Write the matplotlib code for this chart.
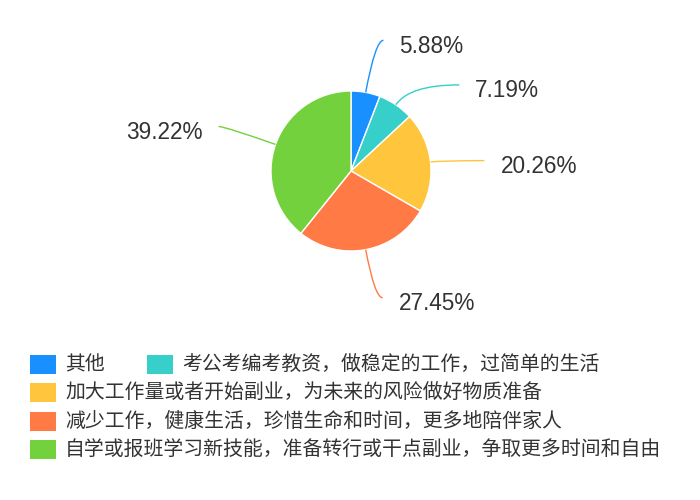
import numpy as np
import matplotlib.pyplot as plt
from matplotlib.path import Path
from matplotlib.patches import PathPatch, Rectangle

categories = [
    '其他',
    '考公考编考教资，做稳定的工作，过简单的生活',
    '加大工作量或者开始副业，为未来的风险做好物质准备',
    '减少工作，健康生活，珍惜生命和时间，更多地陪伴家人',
    '自学或报班学习新技能，准备转行或干点副业，争取更多时间和自由',
]
percents = [5.88, 7.19, 20.26, 27.45, 39.22]
colors = ['#1890ff', '#36cfc9', '#ffc53d', '#ff7a45', '#73d13d']

# label line lengths (px): radial part and horizontal tail
line_len = [53, 24, 12, 49, 54]
tail_len = [8, 50, 42, 8, 6]

W, H = 700, 500
fig = plt.figure(figsize=(7, 5), dpi=100)
ax = fig.add_axes([0, 0, 1, 1])

cx, cy, r = 351, H - 171, 80
wedges, _ = ax.pie(percents, colors=colors, startangle=90, counterclock=False,
                   center=(cx, cy), radius=r,
                   wedgeprops=dict(edgecolor='white', linewidth=1))
ax.set_xlim(0, W)
ax.set_ylim(0, H)
ax.set_aspect('equal')
ax.axis('off')

num_font = ['Liberation Sans', 'DejaVu Sans']
cjk_font = ['Noto Sans CJK SC', 'DejaVu Sans']

# leader lines + percentage labels
for w, p, c, L, t in zip(wedges, percents, colors, line_len, tail_len):
    ang = np.deg2rad((w.theta1 + w.theta2) / 2)
    ux, uy = np.cos(ang), np.sin(ang)
    p0 = (cx + r * ux, cy + r * uy)
    p1 = (cx + (r + L) * ux, cy + (r + L) * uy)
    side = 1 if ux >= 0 else -1
    p2 = (p1[0] + side * t, p1[1])
    path = Path([p0, p1, p2], [Path.MOVETO, Path.CURVE3, Path.CURVE3])
    ax.add_patch(PathPatch(path, fc='none', ec=c, lw=1))
    ax.text(p2[0] + side * 16, p2[1] - 6, f'{p:.2f}%',
            ha='left' if side > 0 else 'right', va='center',
            fontsize=16.3, color='#333333', family=num_font)

# legend, flowing like a web chart
renderer = fig.canvas.get_renderer()
x0, x, row_y = 30, 30, 364.5
sq_w, sq_h = 26, 19
for name, c in zip(categories, colors):
    t = ax.text(0, 0, name, fontsize=14.3, color='#333333', family=cjk_font,
                va='center', ha='left')
    tw = t.get_window_extent(renderer).width
    if x > x0 and x + sq_w + 9 + tw > 690:
        x = x0
        row_y += 28.3
    ax.add_patch(Rectangle((x, H - row_y - sq_h / 2), sq_w, sq_h, fc=c, ec='none'))
    t.set_position((x + sq_w + 9, H - row_y))
    x += sq_w + 9 + tw + 42

fig.savefig('out.png', dpi=100)
